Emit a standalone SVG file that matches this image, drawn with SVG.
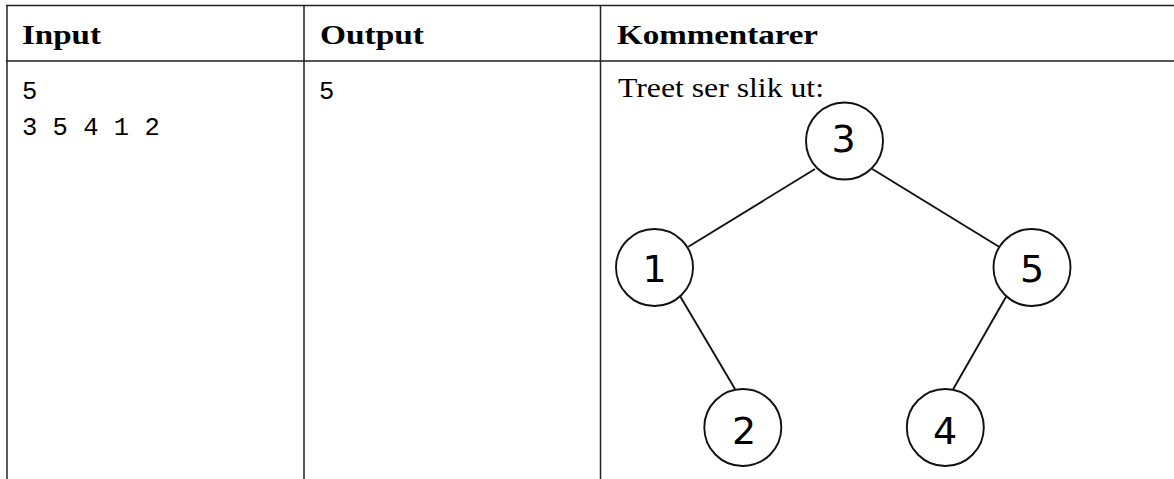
<svg xmlns="http://www.w3.org/2000/svg" width="1174" height="479" viewBox="0 0 1174 479">
<style>
.grid{stroke:#222;stroke-width:1.5;fill:none}
.hd{font-family:"Liberation Serif","DejaVu Serif",serif;font-weight:bold;font-size:28px;fill:#000}
.mono{font-family:"Liberation Mono","DejaVu Sans Mono",monospace;font-size:25.5px;fill:#000}
.rm{font-family:"Liberation Serif","DejaVu Serif",serif;font-size:28px;fill:#000}
.node circle{fill:#fff;stroke:#111;stroke-width:1.9}
.node text{font-family:"DejaVu Sans",Verdana,sans-serif;font-size:38px;fill:#000;text-anchor:middle}
.edge{stroke:#111;stroke-width:1.9}
</style>
<rect width="1174" height="479" fill="#fff"/>
<g id="table">
<line class="grid" x1="6" y1="5.5" x2="1174" y2="5.5"/>
<line x1="6" y1="61" x2="1174" y2="61" stroke="#555" stroke-width="2"/>
<line class="grid" x1="7" y1="5" x2="7" y2="479" stroke-width="2"/>
<line class="grid" x1="304" y1="5" x2="304" y2="479"/>
<line class="grid" x1="600.5" y1="5" x2="600.5" y2="479"/>
<text class="hd" x="22" y="44" textLength="79" lengthAdjust="spacingAndGlyphs">Input</text>
<text class="hd" x="320" y="44" textLength="104" lengthAdjust="spacingAndGlyphs">Output</text>
<text class="hd" x="617" y="44" textLength="201" lengthAdjust="spacingAndGlyphs">Kommentarer</text>
<text class="mono" x="22" y="99">5</text>
<text class="mono" x="22" y="135" xml:space="preserve">3 5 4 1 2</text>
<text class="mono" x="319" y="99">5</text>
<text class="rm" x="618" y="97" textLength="206" lengthAdjust="spacingAndGlyphs">Treet ser slik ut:</text>
</g>
<g id="edges">
<line class="edge" x1="815" y1="169" x2="688.3" y2="246.7"/>
<line class="edge" x1="872.3" y1="169" x2="999" y2="246.7"/>
<line class="edge" x1="680" y1="296" x2="735" y2="389"/>
<line class="edge" x1="1006.5" y1="296" x2="953.3" y2="389"/>
</g>
<g id="n3" class="node"><circle cx="844.5" cy="141" r="38.5"/><text x="843.5" y="152">3</text></g>
<g id="n1" class="node"><circle cx="654.5" cy="267.5" r="38.5"/><text x="654.5" y="282">1</text></g>
<g id="n5" class="node"><circle cx="1032" cy="267.5" r="38.5"/><text x="1032" y="282">5</text></g>
<g id="n2" class="node"><circle cx="742.8" cy="427.5" r="38.5"/><text x="744" y="444">2</text></g>
<g id="n4" class="node"><circle cx="945.3" cy="427.5" r="38.5"/><text x="945" y="444">4</text></g>
</svg>
